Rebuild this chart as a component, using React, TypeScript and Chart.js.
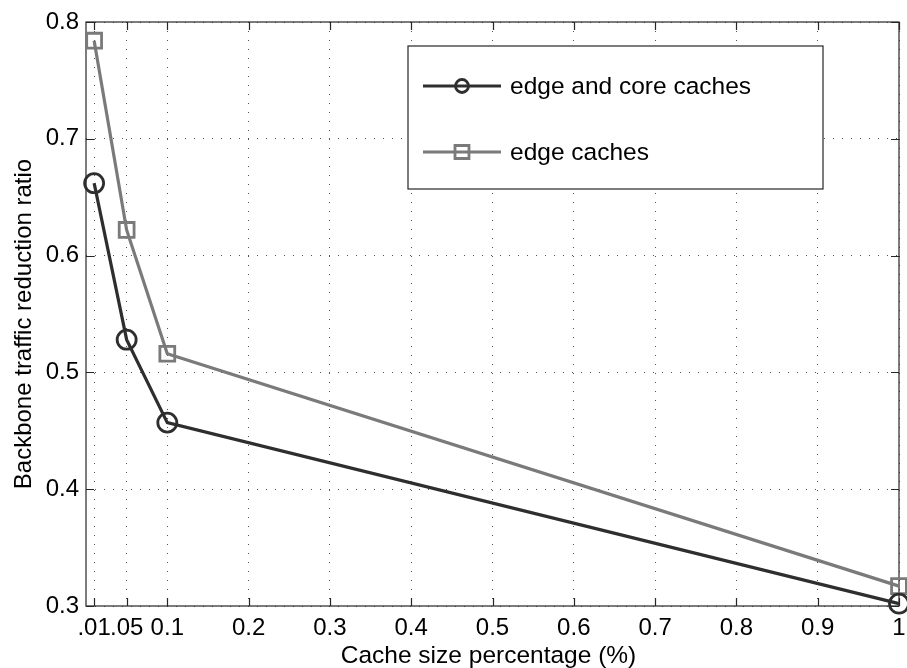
import { useEffect, useRef } from "react";
import { Chart, registerables } from "chart.js";

Chart.register(...registerables);

// Cache size (% of catalogue) and measured backbone traffic reduction
const cacheSizes = [0.01, 0.05, 0.1, 1];
const edgeAndCore = [0.662, 0.528, 0.457, 0.302];
const edgeOnly = [0.784, 0.622, 0.516, 0.317];

const seriesNames = ["edge and core caches", "edge caches"];

const xTickValues = [0.01, 0.05, 0.1, 0.2, 0.3, 0.4, 0.5, 0.6, 0.7, 0.8, 0.9, 1];
const xTickLabels = [".01", ".05", "0.1", "0.2", "0.3", "0.4", "0.5", "0.6", "0.7", "0.8", "0.9", "1"];
const yTickValues = [0.3, 0.4, 0.5, 0.6, 0.7, 0.8];
const yTickLabels = ["0.3", "0.4", "0.5", "0.6", "0.7", "0.8"];

const xTitle = "Cache size percentage (%)";
const yTitle = "Backbone traffic reduction ratio";

const FONT = "'Liberation Sans', Arial, Helvetica, sans-serif";
const DARK = "#2e2e2e";
const GRAY = "#7a7a7a";
const AXIS = "#262626";

// Box around the plot area with inward tick marks on all four sides
const framePlugin = {
  id: "frame",
  beforeDatasetsDraw(chart: any) {
    const { ctx, chartArea: a, scales } = chart;
    const x = scales.x;
    const y = scales.y;
    const len = 8;
    ctx.save();
    ctx.strokeStyle = AXIS;
    ctx.lineWidth = 1.2;
    ctx.setLineDash([]);
    ctx.strokeRect(a.left, a.top, a.right - a.left, a.bottom - a.top);
    ctx.beginPath();
    xTickValues.forEach((v) => {
      const px = Math.round(x.getPixelForValue(v)) + 0.5;
      ctx.moveTo(px, a.bottom);
      ctx.lineTo(px, a.bottom - len);
      ctx.moveTo(px, a.top);
      ctx.lineTo(px, a.top + len);
    });
    yTickValues.forEach((v) => {
      const py = Math.round(y.getPixelForValue(v)) + 0.5;
      ctx.moveTo(a.left, py);
      ctx.lineTo(a.left + len, py);
      ctx.moveTo(a.right, py);
      ctx.lineTo(a.right - len, py);
    });
    ctx.stroke();
    ctx.restore();
  },
  afterDraw(chart: any) {
    const { ctx, chartArea: a } = chart;
    ctx.save();
    ctx.fillStyle = "#000";
    ctx.font = `24.5px ${FONT}`;
    // x axis title
    ctx.textAlign = "center";
    ctx.textBaseline = "alphabetic";
    ctx.fillText(xTitle, (a.left + a.right) / 2 - 4, 663);
    // y axis title
    ctx.font = `24px ${FONT}`;
    ctx.translate(31, (a.top + a.bottom) / 2 + 10);
    ctx.rotate(-Math.PI / 2);
    ctx.fillText(yTitle, 0, 0);
    ctx.restore();
  },
};

// Boxed legend in the upper right part of the plot
const legendPlugin = {
  id: "boxLegend",
  afterDatasetsDraw(chart: any) {
    const { ctx, chartArea: a } = chart;
    const boxRight = a.right - 76;
    const boxTop = a.top + 24;
    const boxW = 415;
    const boxH = 143;
    const boxLeft = boxRight - boxW;
    ctx.save();
    ctx.fillStyle = "#fff";
    ctx.fillRect(boxLeft, boxTop, boxW, boxH);
    ctx.strokeStyle = AXIS;
    ctx.lineWidth = 1.2;
    ctx.setLineDash([]);
    ctx.strokeRect(boxLeft, boxTop, boxW, boxH);

    const rows = [boxTop + 40, boxTop + 106];
    const lineX0 = boxLeft + 15;
    const lineX1 = boxLeft + 93;
    const mx = (lineX0 + lineX1) / 2;
    chart.data.datasets.forEach((ds: any, i: number) => {
      const yy = rows[i];
      ctx.strokeStyle = ds.borderColor;
      ctx.lineWidth = 2.8;
      ctx.beginPath();
      ctx.moveTo(lineX0, yy);
      ctx.lineTo(lineX1, yy);
      ctx.stroke();
      ctx.beginPath();
      if (ds.pointStyle === "circle") {
        ctx.arc(mx, yy, 6.5, 0, Math.PI * 2);
      } else {
        ctx.rect(mx - 7, yy - 6.5, 14, 13);
      }
      ctx.stroke();
      ctx.fillStyle = "#000";
      ctx.font = `24.5px ${FONT}`;
      ctx.textAlign = "left";
      ctx.textBaseline = "middle";
      ctx.fillText(ds.label, boxLeft + 102, yy + 1);
    });
    ctx.restore();
  },
};

export default function App() {
  const canvasRef = useRef<HTMLCanvasElement | null>(null);

  useEffect(() => {
    const canvas = canvasRef.current;
    if (!canvas) return;
    const chart = new Chart(canvas, {
      type: "line",
      data: {
        datasets: [
          {
            label: seriesNames[0],
            data: cacheSizes.map((x, i) => ({ x, y: edgeAndCore[i] })),
            borderColor: DARK,
            borderWidth: 3.2,
            pointStyle: "circle",
            pointRadius: 9.5,
            pointBorderWidth: 2.8,
            pointBorderColor: DARK,
            pointBackgroundColor: "rgba(0,0,0,0)",
            fill: false,
            tension: 0,
            clip: false,
          } as any,
          {
            label: seriesNames[1],
            data: cacheSizes.map((x, i) => ({ x, y: edgeOnly[i] })),
            borderColor: GRAY,
            borderWidth: 3.2,
            pointStyle: "rect",
            pointRadius: 10.5,
            pointBorderWidth: 2.8,
            pointBorderColor: GRAY,
            pointBackgroundColor: "rgba(0,0,0,0)",
            fill: false,
            tension: 0,
            clip: false,
          } as any,
        ],
      },
      options: {
        animation: false,
        responsive: false,
        layout: { autoPadding: false, padding: { top: 22, right: 8, left: 0, bottom: 0 } },
        plugins: {
          legend: { display: false },
          tooltip: { enabled: false },
        },
        scales: {
          x: {
            type: "linear",
            min: 0,
            max: 1,
            afterBuildTicks: (s: any) => {
              s.ticks = xTickValues.map((value) => ({ value }));
            },
            afterFit: (s: any) => {
              s.height = 62;
              s.paddingLeft = 0;
              s.paddingRight = 0;
            },
            ticks: {
              autoSkip: false,
              maxRotation: 0,
              minRotation: 0,
              padding: 8,
              color: "#000",
              font: { family: FONT, size: 24 },
              callback: (_v: any, i: number) => xTickLabels[i],
            },
            grid: { color: "#555", lineWidth: 1, drawTicks: false },
            border: { display: false, dash: [1, 8] },
          },
          y: {
            type: "linear",
            min: 0.3,
            max: 0.8,
            afterBuildTicks: (s: any) => {
              s.ticks = yTickValues.map((value) => ({ value }));
            },
            afterFit: (s: any) => {
              s.width = 86;
              s.paddingTop = 0;
              s.paddingBottom = 0;
            },
            ticks: {
              padding: 7,
              color: "#000",
              font: { family: FONT, size: 24 },
              callback: (_v: any, i: number) => yTickLabels[i],
            },
            grid: { color: "#555", lineWidth: 1, drawTicks: false },
            border: { display: false, dash: [1, 8] },
          },
        },
      } as any,
      plugins: [framePlugin, legendPlugin],
    });
    return () => chart.destroy();
  }, []);

  return (
    <div style={{ position: "absolute", left: 0, top: 0, width: 907, height: 668, background: "#fff" }}>
      <canvas ref={canvasRef} width={907} height={668} style={{ display: "block" }} />
    </div>
  );
}
